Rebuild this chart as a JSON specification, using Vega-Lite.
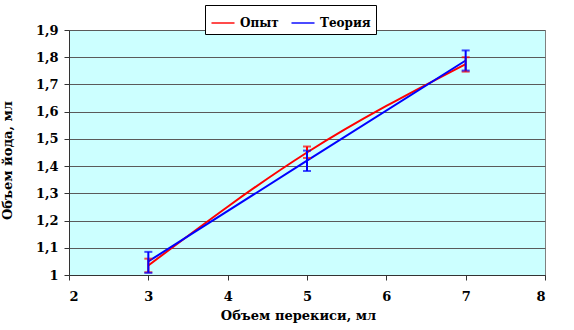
{
  "$schema": "https://vega.github.io/schema/vega-lite/v6.json",
  "width": 476,
  "height": 245,
  "autosize": {"type": "none"},
  "padding": {"left": 69, "top": 30, "right": 29, "bottom": 55},
  "background": "#ffffff",
  "data": {
    "values": [
      {"series": "Опыт", "x": 3, "y": 1.035, "lo": 1.01, "hi": 1.06},
      {"series": "Опыт", "x": 5, "y": 1.45, "lo": 1.43, "hi": 1.472},
      {"series": "Опыт", "x": 7, "y": 1.775, "lo": 1.747, "hi": 1.8},
      {"series": "Теория", "x": 3, "y": 1.05, "lo": 1.008, "hi": 1.085},
      {"series": "Теория", "x": 5, "y": 1.42, "lo": 1.382, "hi": 1.457},
      {"series": "Теория", "x": 7, "y": 1.788, "lo": 1.751, "hi": 1.825}
    ]
  },
  "layer": [
    {
      "mark": {"type": "line", "strokeWidth": 2, "interpolate": "monotone"},
      "transform": [{"filter": "datum.series === 'Опыт'"}],
      "encoding": {
        "x": {"field": "x", "type": "quantitative"},
        "y": {"field": "y", "type": "quantitative"},
        "color": {"field": "series", "type": "nominal"}
      }
    },
    {
      "mark": {"type": "line", "strokeWidth": 2},
      "transform": [{"filter": "datum.series === 'Теория'"}],
      "encoding": {
        "x": {"field": "x", "type": "quantitative"},
        "y": {"field": "y", "type": "quantitative"},
        "color": {"field": "series", "type": "nominal"}
      }
    },
    {
      "mark": {"type": "errorbar", "ticks": {"size": 8, "thickness": 2}, "rule": {"strokeWidth": 2}},
      "encoding": {
        "x": {"field": "x", "type": "quantitative"},
        "y": {"field": "lo", "type": "quantitative"},
        "y2": {"field": "hi"},
        "color": {"field": "series", "type": "nominal"}
      }
    }
  ],
  "resolve": {"scale": {"color": "shared"}},
  "encoding": {
    "x": {
      "field": "x",
      "type": "quantitative",
      "scale": {"domain": [2, 8], "nice": false, "zero": false},
      "axis": {
        "title": "Объем перекиси, мл",
        "values": [2, 3, 4, 5, 6, 7, 8],
        "grid": false,
        "tickSize": 5,
        "labelPadding": 10,
        "titleX": 229,
        "titleY": 40,
        "titleBaseline": "middle",
        "titleAnchor": "middle"
      }
    },
    "y": {
      "field": "y",
      "type": "quantitative",
      "scale": {"domain": [1, 1.9], "nice": false, "zero": false},
      "axis": {
        "title": "Объем йода, мл",
        "values": [1, 1.1, 1.2, 1.3, 1.4, 1.5, 1.6, 1.7, 1.8, 1.9],
        "labelExpr": "replace(format(datum.value, '.2~f'), '.', ',')",
        "grid": true,
        "tickSize": 5,
        "labelPadding": 6,
        "titleX": -62,
        "titleY": 130,
        "titleBaseline": "middle",
        "titleAnchor": "middle",
        "titleAngle": 270
      }
    },
    "color": {
      "field": "series",
      "type": "nominal",
      "scale": {"domain": ["Опыт", "Теория"], "range": ["#ff0000", "#0000ff"]},
      "legend": {
        "title": null,
        "orient": "none",
        "legendX": 136,
        "legendY": -25,
        "direction": "horizontal"
      }
    }
  },
  "config": {
    "view": {"fill": "#ccffff", "stroke": "#808080", "strokeWidth": 1},
    "axis": {
      "labelFont": "DejaVu Serif",
      "labelFontWeight": "bold",
      "labelFontSize": 13,
      "labelColor": "#000000",
      "titleFont": "DejaVu Serif",
      "titleFontWeight": "bold",
      "titleFontSize": 13,
      "titleColor": "#000000",
      "domainColor": "#333333",
      "domainWidth": 1,
      "tickColor": "#333333",
      "gridColor": "#5a5a5a",
      "gridWidth": 1.2,
      "gridOpacity": 1
    },
    "legend": {
      "labelFont": "DejaVu Serif",
      "labelFontWeight": "bold",
      "labelFontSize": 12,
      "labelColor": "#000000",
      "symbolType": "stroke",
      "symbolSize": 530,
      "symbolStrokeWidth": 2,
      "fillColor": "#ffffff",
      "strokeColor": "#000000",
      "padding": 5,
      "columnPadding": 8,
      "labelOffset": 4
    }
  }
}
